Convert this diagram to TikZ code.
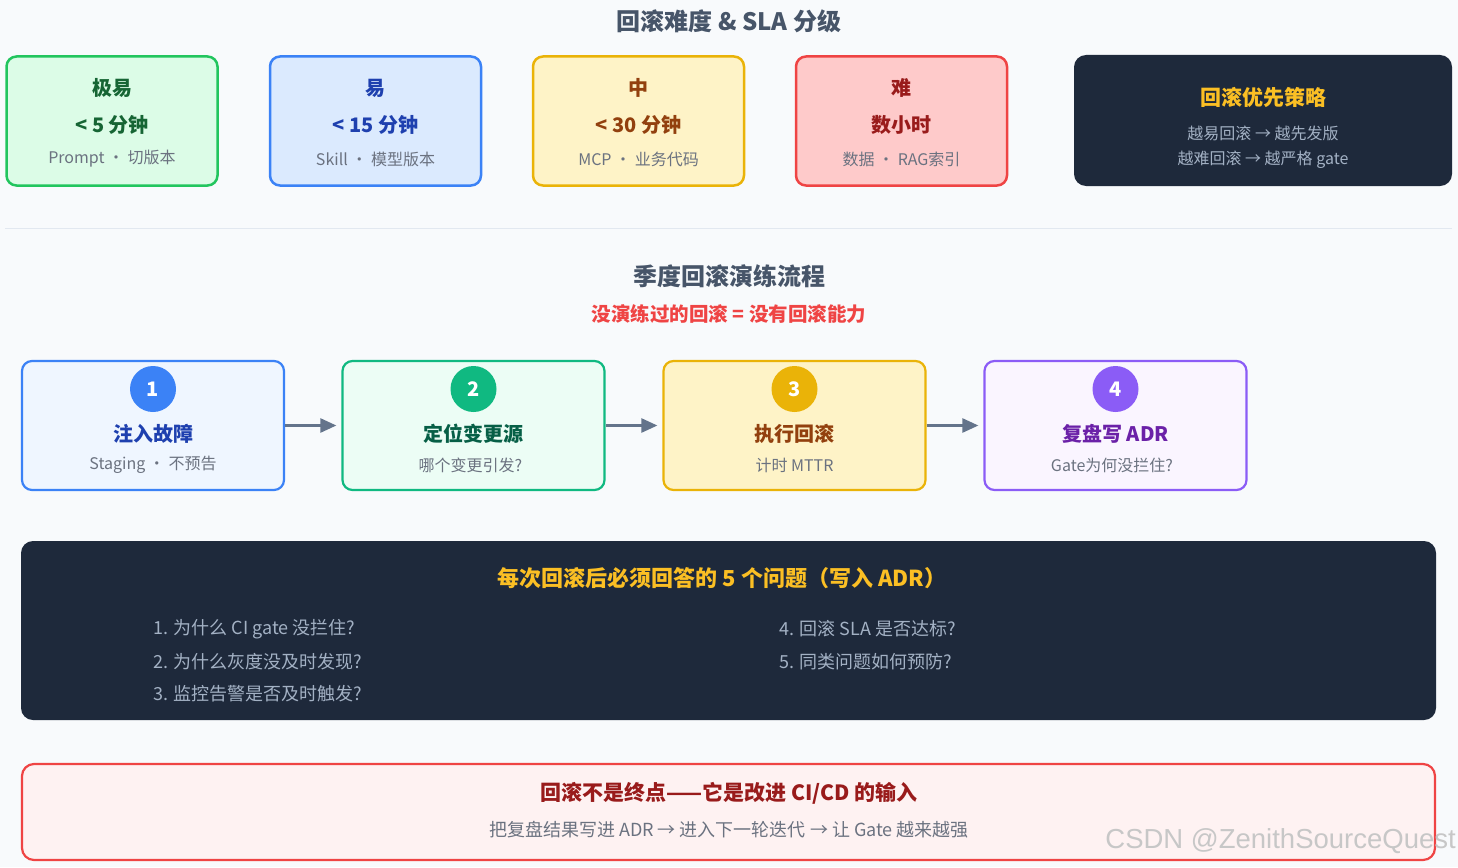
\documentclass[tikz,border=0pt]{standalone}
\usepackage{fontspec}
\setmainfont{Noto Sans CJK SC}
\newfontfamily\wmfont{Liberation Sans}
\usetikzlibrary{arrows.meta}
\definecolor{bg}{HTML}{F8FAFC}
\definecolor{sep}{HTML}{E2E8F0}
\definecolor{ttl}{HTML}{475569}
\definecolor{subg}{HTML}{6B7280}
\definecolor{navy}{HTML}{1E293B}
\definecolor{gold}{HTML}{FBBF24}
\definecolor{lite}{HTML}{A3B1C4}
\definecolor{grB}{HTML}{22C55E}\definecolor{grF}{HTML}{DCFCE7}\definecolor{grT}{HTML}{166534}
\definecolor{blB}{HTML}{3B82F6}\definecolor{blF}{HTML}{DBEAFE}\definecolor{blT}{HTML}{1E40AF}
\definecolor{yeB}{HTML}{EAB308}\definecolor{yeF}{HTML}{FEF3C7}\definecolor{yeT}{HTML}{92400E}
\definecolor{reB}{HTML}{EF4444}\definecolor{reF}{HTML}{FECACA}\definecolor{reT}{HTML}{991B1B}
\definecolor{blF2}{HTML}{EFF6FF}
\definecolor{emB}{HTML}{10B981}\definecolor{emF}{HTML}{ECFDF5}\definecolor{emT}{HTML}{065F46}
\definecolor{puB}{HTML}{8B5CF6}\definecolor{puF}{HTML}{FAF5FF}\definecolor{puT}{HTML}{6B21A8}
\definecolor{reF2}{HTML}{FEF2F2}
\definecolor{arr}{HTML}{64748B}
\tikzset{
  card/.style={draw, rounded corners=10pt, line width=2.5pt, minimum width=211pt, minimum height=129pt, inner sep=0pt},
  flowbox/.style={draw, rounded corners=10pt, line width=2.2pt, minimum width=262pt, minimum height=129pt, inner sep=0pt},
  big/.style={font=\fontsize{20}{24}\selectfont\bfseries, inner sep=0pt},
  small/.style={font=\fontsize{16}{19}\selectfont, text=subg, inner sep=0pt},
  sectitle/.style={font=\fontsize{24}{28}\selectfont\bfseries, text=ttl, inner sep=0pt},
  badge/.style={circle, minimum size=46pt, inner sep=0pt, text=white, font=\fontsize{20}{24}\selectfont\bfseries},
  flowarrow/.style={draw=arr, line width=2.5pt, -{Triangle[length=16pt,width=14pt]}, shorten >=5pt},
  item/.style={font=\fontsize{18}{22}\selectfont, text=lite, anchor=west, inner sep=0pt},
}
\begin{document}
\begin{tikzpicture}[x=1pt,y=-1pt]
\fill[bg] (0,0) rectangle (1458,867);
\useasboundingbox (0,0) rectangle (1458,867);

% Title
\node[sectitle] (t1) at (729,21) {回滚难度 \& SLA 分级};

% Top cards
\node[card, draw=grB, fill=grF] (c1) at (112,121) {};
\node[big, text=grT] (c1a) at (112,88) {极易};
\node[big, text=grT] (c1b) at (112,125) {< 5 分钟};
\node[small] (c1c) at (112,159) {Prompt · 切版本};

\node[card, draw=blB, fill=blF] (c2) at (375.5,121) {};
\node[big, text=blT] (c2a) at (375.5,88) {易};
\node[big, text=blT] (c2b) at (375.5,125) {< 15 分钟};
\node[small] (c2c) at (375.5,159) {Skill · 模型版本};

\node[card, draw=yeB, fill=yeF] (c3) at (638.5,121) {};
\node[big, text=yeT] (c3a) at (638.5,88) {中};
\node[big, text=yeT] (c3b) at (638.5,125) {< 30 分钟};
\node[small] (c3c) at (638.5,159) {MCP · 业务代码};

\node[card, draw=reB, fill=reF] (c4) at (901.5,121) {};
\node[big, text=reT] (c4a) at (901.5,88) {难};
\node[big, text=reT] (c4b) at (901.5,125) {数小时};
\node[small] (c4c) at (901.5,159) {数据 · RAG索引};

\node[fill=navy, rounded corners=12pt, minimum width=378pt, minimum height=131pt, inner sep=0pt] (c5) at (1263,120.5) {};
\node[font=\fontsize{21}{25}\selectfont\bfseries, text=gold, inner sep=0pt] (c5a) at (1263,97) {回滚优先策略};
\node[small, text=lite] (c5b) at (1263,133) {越易回滚 → 越先发版};
\node[small, text=lite] (c5c) at (1263,160) {越难回滚 → 越严格 gate};

% separator
\coordinate (s1) at (5,228);
\coordinate (s2) at (1452,228);
\draw[sep, line width=1pt] (s1) -- (s2);

% Section 2
\node[sectitle] (t2) at (729,276) {季度回滚演练流程};
\node[font=\fontsize{19.5}{23}\selectfont\bfseries, text=reB, inner sep=0pt] (t2b) at (729,314) {没演练过的回滚 = 没有回滚能力};

\node[flowbox, draw=blB, fill=blF2] (f1) at (153,425.5) {};
\node[badge, fill=blB] (b1) at (153,389) {1};
\node[big, text=blT] (f1a) at (153,434) {注入故障};
\node[small] (f1b) at (153,465) {Staging · 不预告};

\node[flowbox, draw=emB, fill=emF] (f2) at (473.5,425.5) {};
\node[badge, fill=emB] (b2) at (473.5,389) {2};
\node[big, text=emT] (f2a) at (473.5,434) {定位变更源};
\node[small] (f2b) at (470.5,465) {哪个变更引发?};

\node[flowbox, draw=yeB, fill=yeF] (f3) at (794.5,425.5) {};
\node[badge, fill=yeB] (b3) at (794.5,389) {3};
\node[big, text=yeT] (f3a) at (794.5,434) {执行回滚};
\node[small] (f3b) at (794.5,465) {计时 MTTR};

\node[flowbox, draw=puB, fill=puF] (f4) at (1115.5,425.5) {};
\node[badge, fill=puB] (b4) at (1115.5,389) {4};
\node[big, text=puT] (f4a) at (1115.5,434) {复盘写 ADR};
\node[small] (f4b) at (1112,465) {Gate为何没拦住?};

\draw[flowarrow] (f1.east) -- (f2.west);
\draw[flowarrow] (f2.east) -- (f3.west);
\draw[flowarrow] (f3.east) -- (f4.west);

% Questions box
\node[fill=navy, rounded corners=12pt, minimum width=1415pt, minimum height=179pt, inner sep=0pt] (q) at (728.5,630.5) {};
\node[font=\fontsize{22}{26}\selectfont\bfseries, text=gold, inner sep=0pt] (qt) at (722,578) {每次回滚后必须回答的 5 个问题（写入 ADR）};
\node[item] (q1) at (153,629) {1. 为什么 CI gate 没拦住?};
\node[item] (q2) at (153,662) {2. 为什么灰度没及时发现?};
\node[item] (q3) at (153,694) {3. 监控告警是否及时触发?};
\node[item] (q4) at (779,629) {4. 回滚 SLA 是否达标?};
\node[item] (q5) at (779,662) {5. 同类问题如何预防?};

% Bottom box
\node[draw=reB, fill=reF2, line width=2.2pt, rounded corners=12pt, minimum width=1413pt, minimum height=96pt, inner sep=0pt] (bt) at (728.5,812) {};
\node[font=\fontsize{21}{25}\selectfont\bfseries, text=reT, inner sep=0pt] (bt1) at (729,793) {回滚不是终点——它是改进 CI/CD 的输入};
\node[font=\fontsize{18}{22}\selectfont, text=subg, inner sep=0pt] (bt2) at (729,830) {把复盘结果写进 ADR → 进入下一轮迭代 → 让 Gate 越来越强};

% watermark
\node[font=\wmfont\fontsize{27.5}{31}\selectfont, text=black!22, anchor=east, inner sep=0pt] (wm) at (1456,841) {CSDN @ZenithSourceQuest};
\end{tikzpicture}
\end{document}
